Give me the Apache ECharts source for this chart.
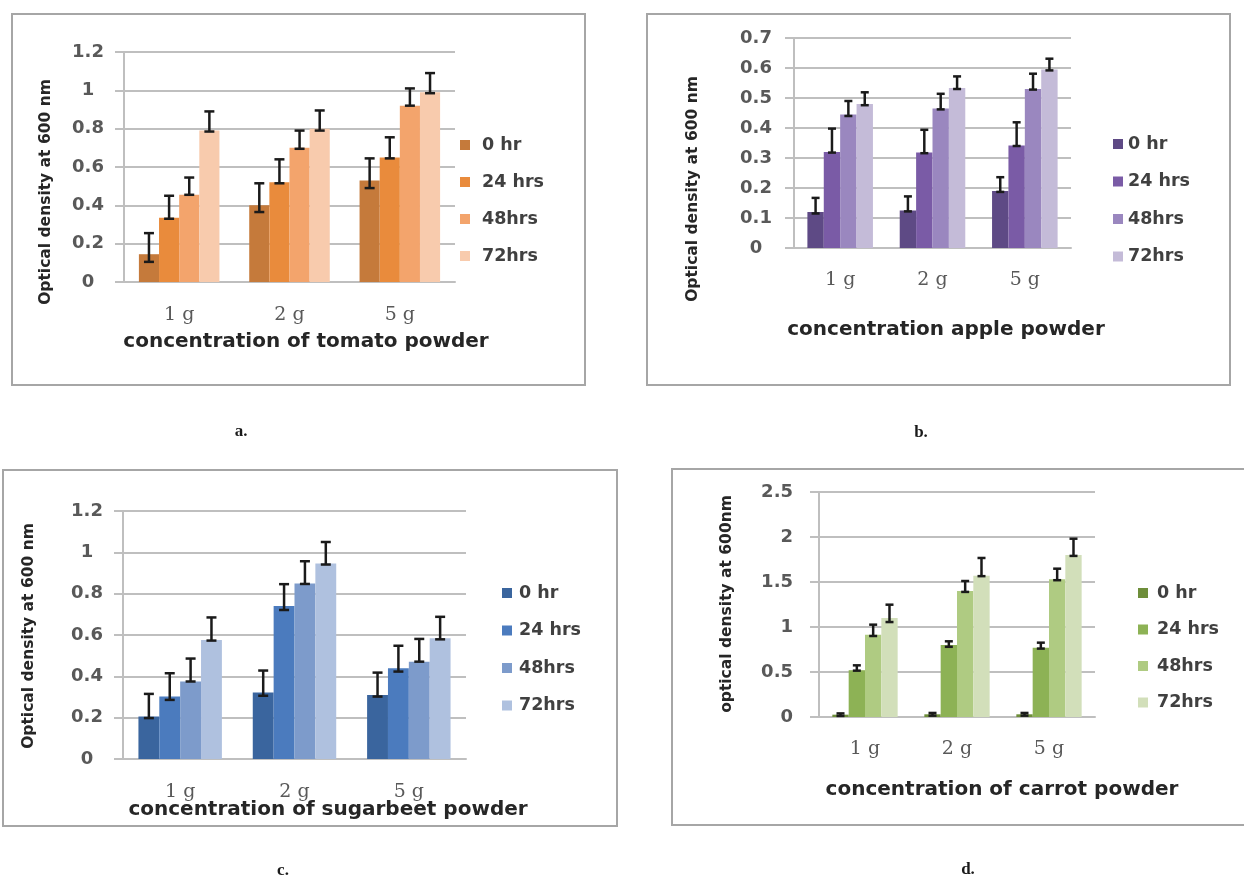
<!DOCTYPE html>
<html><head><meta charset="utf-8">
<script src="https://cdn.jsdelivr.net/npm/echarts@6/dist/echarts.min.js"></script>
<style>html,body{margin:0;padding:0;background:#fff}#c{width:1244px;height:876px}</style>
</head><body><div id="c"></div>
<script>
// ---------- data ----------
const categories = ['1 g', '2 g', '5 g'];
const seriesNames = ['0 hr', '24 hrs', '48hrs', '72hrs'];

// a. tomato powder  (rows: 0 hr, 24 hrs, 48hrs, 72hrs ; columns: 1 g, 2 g, 5 g)
const tomatoMeans = [[0.145, 0.40, 0.53], [0.335, 0.52, 0.65], [0.455, 0.70, 0.92], [0.79, 0.80, 0.99]];
const tomatoLow   = [[0.105, 0.365, 0.49], [0.33, 0.515, 0.645], [0.455, 0.695, 0.92], [0.785, 0.79, 0.985]];
const tomatoHigh  = [[0.255, 0.515, 0.645], [0.45, 0.64, 0.755], [0.545, 0.79, 1.01], [0.89, 0.895, 1.09]];

// b. apple powder
const appleMeans = [[0.12, 0.125, 0.19], [0.32, 0.318, 0.342], [0.445, 0.465, 0.53], [0.48, 0.533, 0.595]];
const appleLow   = [[0.115, 0.122, 0.187], [0.318, 0.316, 0.34], [0.44, 0.462, 0.528], [0.476, 0.53, 0.592]];
const appleHigh  = [[0.167, 0.172, 0.236], [0.398, 0.394, 0.419], [0.49, 0.514, 0.581], [0.519, 0.572, 0.631]];

// c. sugarbeet powder
const sugarbeetMeans = [[0.206, 0.322, 0.31], [0.302, 0.74, 0.439], [0.375, 0.849, 0.471], [0.576, 0.946, 0.584]];
const sugarbeetLow   = [[0.198, 0.306, 0.302], [0.286, 0.721, 0.423], [0.375, 0.847, 0.471], [0.573, 0.941, 0.579]];
const sugarbeetHigh  = [[0.315, 0.428, 0.418], [0.415, 0.846, 0.548], [0.486, 0.957, 0.581], [0.685, 1.05, 0.688]];

// d. carrot powder
const carrotMeans = [[0.026, 0.03, 0.03], [0.52, 0.80, 0.77], [0.915, 1.40, 1.53], [1.10, 1.57, 1.80]];
const carrotLow   = [[0.012, 0.015, 0.015], [0.515, 0.78, 0.76], [0.90, 1.39, 1.52], [1.055, 1.565, 1.79]];
const carrotHigh  = [[0.04, 0.045, 0.045], [0.574, 0.841, 0.826], [1.026, 1.511, 1.648], [1.248, 1.767, 1.981]];

const xTitles = ['concentration of tomato powder', 'concentration apple powder', 'concentration of sugarbeet powder', 'concentration of carrot powder'];
const yTitles = ['Optical density at 600 nm', 'Optical density at 600 nm', 'Optical density at 600 nm', 'optical density at 600nm'];
const panelLetters = ['a.', 'b.', 'c.', 'd.'];
const yMaxes = [1.2, 0.7, 1.2, 2.5];
const yIntervals = [0.2, 0.1, 0.2, 0.5];

// ---------- layout / style ----------
const panels = [
  { means: tomatoMeans, low: tomatoLow, high: tomatoHigh,
    colors: ['#C57A3B', '#E98B3C', '#F3A46C', '#F8CBAD'],
    grid: { left: 124, top: 52, width: 331, height: 230 }, gap: 0.27, cap: 10,
    yLabel: { align: 'center', margin: 36 }, xMargin: 24,
    legend: { left: 460, top: 135, gap: 17, pad: 7 },
    box: [12, 14, 573, 371], xt: [306, 342], yt: [46, 192], letter: [241, 432] },
  { means: appleMeans, low: appleLow, high: appleHigh,
    colors: ['#5E4A85', '#7A5BA6', '#9A87BF', '#C4BBD8'],
    grid: { left: 794, top: 38, width: 277, height: 210 }, gap: 0.29, cap: 8,
    yLabel: { align: 'center', margin: 38 }, xMargin: 23,
    legend: { left: 1113, top: 134, gap: 17.5, pad: 0 },
    box: [647, 14, 583, 371], xt: [946, 330], yt: [693, 189], letter: [921, 433] },
  { means: sugarbeetMeans, low: sugarbeetLow, high: sugarbeetHigh,
    colors: ['#3A659E', '#4B7BBE', '#7D9BCB', '#AFC1DF'],
    grid: { left: 123, top: 511, width: 343, height: 248 }, gap: 0.27, cap: 10,
    yLabel: { align: 'center', margin: 36 }, xMargin: 24,
    legend: { left: 502, top: 583, gap: 17.5, pad: 2 },
    box: [3, 470, 614, 356], xt: [328, 810], yt: [29, 636], letter: [283, 871] },
  { means: carrotMeans, low: carrotLow, high: carrotHigh,
    colors: ['#6E8E3A', '#8DB255', '#AFCB82', '#D2DFBA'],
    grid: { left: 819, top: 492, width: 276, height: 225 }, gap: 0.29, cap: 8,
    yLabel: { align: 'right', margin: 26 }, xMargin: 23,
    legend: { left: 1138, top: 583, gap: 16.5, pad: 4 },
    box: [672, 469, 580, 356], xt: [1002, 790], yt: [727, 604], letter: [968, 870] }
];

const GRID_COLOR = '#BFBFBF';
const option = { animation: false, backgroundColor: '#fff', grid: [], xAxis: [], yAxis: [], series: [], legend: [], graphic: [] };

panels.forEach((p, i) => {
  option.grid.push(Object.assign({ containLabel: false }, p.grid));
  option.xAxis.push({
    type: 'category', gridIndex: i, data: categories,
    axisTick: { show: false },
    axisLine: { show: true, lineStyle: { color: GRID_COLOR, width: 2 } },
    axisLabel: { fontFamily: 'DejaVu Serif', fontSize: 19, color: '#595959', margin: p.xMargin }
  });
  option.yAxis.push({
    type: 'value', gridIndex: i, min: 0, max: yMaxes[i], interval: yIntervals[i],
    axisLine: { show: true, lineStyle: { color: GRID_COLOR, width: 2 } },
    axisTick: { show: true, length: 9, lineStyle: { color: GRID_COLOR, width: 2 } },
    splitLine: { show: true, lineStyle: { color: GRID_COLOR, width: 2 } },
    axisLabel: { fontFamily: 'DejaVu Sans', fontWeight: 'bold', fontSize: 18, color: '#595959',
                 align: p.yLabel.align, margin: p.yLabel.margin }
  });
  seriesNames.forEach((n, s) => {
    option.series.push({
      type: 'bar', name: n, xAxisIndex: i, yAxisIndex: i, data: p.means[s],
      barGap: '0%', barCategoryGap: (p.gap * 100) + '%',
      itemStyle: { color: p.colors[s] }, z: 2
    });
  });
  const errData = [];
  for (let c = 0; c < categories.length; c++) {
    for (let s = 0; s < seriesNames.length; s++) errData.push([c, s, p.low[s][c], p.high[s][c]]);
  }
  option.series.push({
    type: 'custom', xAxisIndex: i, yAxisIndex: i, z: 5, silent: true,
    encode: { x: 0, y: [2, 3] },
    data: errData,
    renderItem: function (params, api) {
      const c = api.value(0), s = api.value(1), lo = api.value(2), hi = api.value(3);
      const band = api.size([1, 0])[0];
      const bw = band * (1 - p.gap) / 4;
      const cx = api.coord([c, 0])[0] + (s - 1.5) * bw;
      const yl = api.coord([c, lo])[1], yh = api.coord([c, hi])[1];
      const h = p.cap / 2;
      const st = { stroke: '#1a1a1a', lineWidth: 2.5 };
      return { type: 'group', children: [
        { type: 'line', shape: { x1: cx, y1: yl, x2: cx, y2: yh }, style: st },
        { type: 'line', shape: { x1: cx - h, y1: yh, x2: cx + h, y2: yh }, style: st },
        { type: 'line', shape: { x1: cx - h, y1: yl, x2: cx + h, y2: yl }, style: st }
      ] };
    }
  });
  option.legend.push({
    orient: 'vertical', left: p.legend.left, top: p.legend.top, padding: 0,
    itemWidth: 10, itemHeight: 10, itemGap: p.legend.gap, icon: 'rect',
    selectedMode: false,
    textStyle: { fontFamily: 'DejaVu Sans', fontWeight: 'bold', fontSize: 17.5, color: '#404040',
                 lineHeight: 20, padding: [0, 0, 0, p.legend.pad] },
    data: seriesNames.map((n, s) => ({ name: n, itemStyle: { color: p.colors[s] } }))
  });
  option.graphic.push({
    type: 'rect', shape: { x: p.box[0], y: p.box[1], width: p.box[2], height: p.box[3] },
    style: { fill: 'none', stroke: '#A6A6A6', lineWidth: 2 }, z: -1, silent: true
  });
  option.graphic.push({
    type: 'text', x: p.xt[0], y: p.xt[1], silent: true,
    style: { text: xTitles[i], font: 'bold 20px "DejaVu Sans"', fill: '#262626',
             align: 'center', verticalAlign: 'middle', textAlign: 'center', textVerticalAlign: 'middle' }
  });
  option.graphic.push({
    type: 'text', x: p.yt[0], y: p.yt[1], rotation: Math.PI / 2, silent: true,
    style: { text: yTitles[i], font: 'bold 15.5px "DejaVu Sans"', fill: '#262626',
             align: 'center', verticalAlign: 'middle', textAlign: 'center', textVerticalAlign: 'middle' }
  });
  option.graphic.push({
    type: 'text', x: p.letter[0], y: p.letter[1], silent: true,
    style: { text: panelLetters[i], font: 'bold 17px "Liberation Serif"', fill: '#1a1a1a',
             align: 'center', verticalAlign: 'middle', textAlign: 'center', textVerticalAlign: 'middle' }
  });
});

const chart = echarts.init(document.getElementById('c'), null, { renderer: 'canvas' });
chart.setOption(option);
</script>
</body></html>
